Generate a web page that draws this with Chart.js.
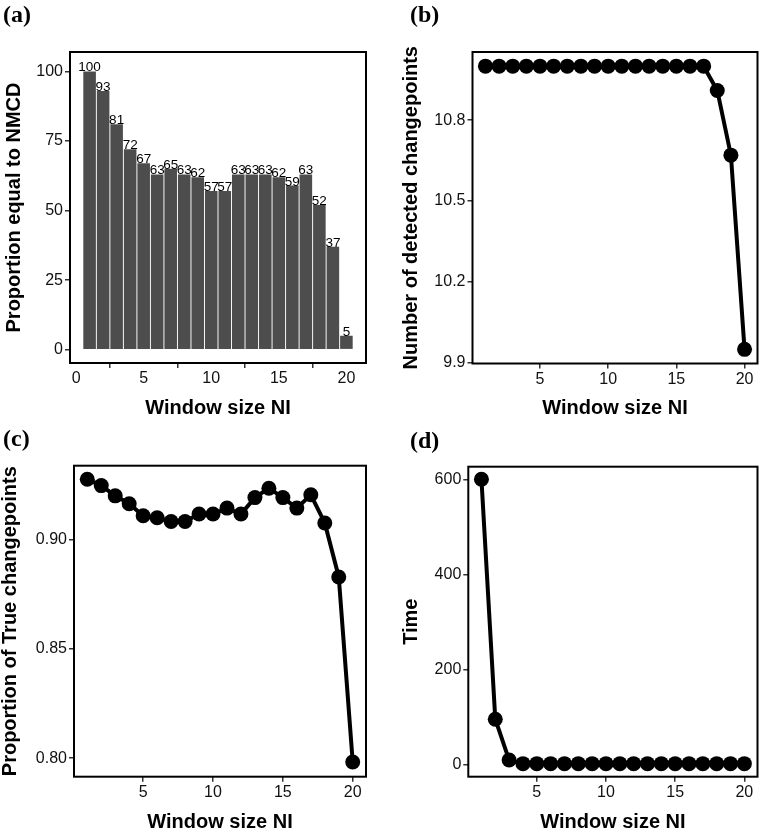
<!DOCTYPE html>
<html>
<head>
<meta charset="utf-8">
<script src="https://cdn.jsdelivr.net/npm/chart.js@4.4.1/dist/chart.umd.min.js"></script>
<style>
  body { margin: 0; background: #fff; width: 765px; height: 837px; position: relative; overflow: hidden; }
  .panel { position: absolute; }
</style>
</head>
<body>
<div class="panel" style="left:0;top:0"><canvas id="chartA" width="382" height="420"></canvas></div>
<div class="panel" style="left:382px;top:0"><canvas id="chartB" width="383" height="420"></canvas></div>
<div class="panel" style="left:0;top:417px"><canvas id="chartC" width="382" height="420"></canvas></div>
<div class="panel" style="left:382px;top:417px"><canvas id="chartD" width="383" height="420"></canvas></div>
<script>
// window sizes NI = 1..20
const windowSize = [1, 2, 3, 4, 5, 6, 7, 8, 9, 10, 11, 12, 13, 14, 15, 16, 17, 18, 19, 20]

// (a) proportion equal to NMCD
const proportionNMCD = [100, 93, 81, 72, 67, 63, 65, 63, 62, 57, 57, 63, 63, 63, 62, 59, 63, 52, 37, 5]
// (b) number of detected changepoints
const detectedChangepoints = [11, 11, 11, 11, 11, 11, 11, 11, 11, 11, 11, 11, 11, 11, 11, 11, 11, 10.91, 10.67, 9.95]
// (c) proportion of true changepoints
const trueChangepoints = [0.9276, 0.9247, 0.920, 0.9164, 0.9109, 0.910, 0.9083, 0.9083, 0.9117, 0.9117,
                          0.9144, 0.9117, 0.9192, 0.9235, 0.9192, 0.9144, 0.9205, 0.9076, 0.8829, 0.7982]
// (d) time
const timeValues = [600, 95, 9, 1.5, 1.5, 1.5, 1.5, 1.5, 1.5, 1.5, 1.5, 1.5, 1.5, 1.5, 1.5, 1.5, 1.5, 1.5, 1.5, 1.5]

// tick values and labels
const xTicksA = [0, 5, 10, 15, 20]
const xTicks = [5, 10, 15, 20]
const yTicksA = [0, 25, 50, 75, 100]
const yTicksB = [9.9, 10.2, 10.5, 10.8]
const yTickLabelsB = ['9.9', '10.2', '10.5', '10.8']
const yTicksC = [0.80, 0.85, 0.90]
const yTickLabelsC = ['0.80', '0.85', '0.90']
const yTicksD = [0, 200, 400, 600]

const sans = 'Liberation Sans, Arial, Helvetica, sans-serif'

const framePlugin = {
    id: 'frame',
    afterDraw(chart) {
        const a = chart.chartArea
        const ctx = chart.ctx
        ctx.save()
        ctx.strokeStyle = '#000'
        ctx.lineWidth = 2
        ctx.strokeRect(a.left, a.top, a.right - a.left, a.bottom - a.top)
        ctx.restore()
    }
}

const panelLabelPlugin = {
    id: 'panelLabel',
    afterDraw(chart, args, opts) {
        const ctx = chart.ctx
        ctx.save()
        ctx.font = 'bold 24px Liberation Serif, Times New Roman, serif'
        ctx.fillStyle = '#000'
        ctx.textBaseline = 'middle'
        ctx.textAlign = 'left'
        ctx.fillText(opts.text, opts.x, opts.y)
        ctx.restore()
    }
}

const barLabelPlugin = {
    id: 'barLabels',
    afterDatasetsDraw(chart) {
        const ctx = chart.ctx
        const meta = chart.getDatasetMeta(0)
        const values = chart.data.datasets[0].data
        ctx.save()
        ctx.font = '13.5px ' + sans
        ctx.fillStyle = '#000'
        ctx.textAlign = 'center'
        ctx.textBaseline = 'alphabetic'
        meta.data.forEach((bar, i) => {
            ctx.fillText(String(values[i].y), bar.x, bar.y)
        })
        ctx.restore()
    }
}

function axisOptions(min, max, ticks, labels, title, fitSize, isX) {
    return {
        type: 'linear',
        min: min,
        max: max,
        offset: false,
        afterBuildTicks: scale => { scale.ticks = ticks.map(v => ({ value: v })) },
        afterFit: scale => {
            if (isX) scale.height = fitSize
            else scale.width = fitSize
        },
        grid: { display: true, drawOnChartArea: false, drawTicks: true, tickLength: 5, color: '#333', lineWidth: 1.5 },
        border: { display: false },
        ticks: {
            autoSkip: false,
            maxRotation: 0,
            padding: isX ? 1 : 2,
            color: '#111',
            font: { family: sans, size: 16 },
            callback: (value, index) => labels ? labels[index] : String(value)
        },
        title: {
            display: true,
            text: title,
            color: '#000',
            padding: 0,
            font: { family: sans, size: 20, weight: 'bold', lineHeight: 1 }
        }
    }
}

function baseOptions(geom, xScale, yScale, label) {
    return {
        responsive: false,
        animation: false,
        layout: { padding: { left: geom.padLeft, top: geom.padTop, right: geom.padRight, bottom: geom.padBottom } },
        scales: { x: xScale, y: yScale },
        plugins: {
            legend: { display: false },
            tooltip: { enabled: false },
            panelLabel: label
        }
    }
}

function lineDataset(values) {
    return {
        data: windowSize.map((x, i) => ({ x: x, y: values[i] })),
        borderColor: '#000',
        borderWidth: 4,
        pointRadius: 7.5,
        pointBackgroundColor: '#000',
        pointBorderWidth: 0,
        tension: 0,
        clip: false
    }
}

// (a) bars
new Chart(document.getElementById('chartA'), {
    type: 'bar',
    data: {
        datasets: [{
            data: windowSize.map((x, i) => ({ x: x, y: proportionNMCD[i] })),
            backgroundColor: '#4d4d4d',
            borderWidth: 0,
            categoryPercentage: 1,
            barPercentage: 0.93
        }]
    },
    options: baseOptions(
        { padLeft: 4.5, padTop: 52, padRight: 16, padBottom: 2 },
        axisOptions(-0.45, 21.45, xTicksA, null, 'Window size NI', 55, true),
        axisOptions(-4.8, 107, yTicksA, null, 'Proportion equal to NMCD', 65.5, false),
        { text: '(a)', x: 3, y: 16 }
    ),
    plugins: [barLabelPlugin, framePlugin, panelLabelPlugin]
})

// (b) detected changepoints
new Chart(document.getElementById('chartB'), {
    type: 'line',
    data: { datasets: [lineDataset(detectedChangepoints)] },
    options: baseOptions(
        { padLeft: 19, padTop: 52, padRight: 1, padBottom: 2 },
        axisOptions(0.05, 20.95, xTicks, null, 'Window size NI', 54.5, true),
        axisOptions(9.8975, 11.0525, yTicksB, yTickLabelsB, 'Number of detected changepoints', 71.5, false),
        { text: '(b)', x: 28, y: 16 }
    ),
    plugins: [framePlugin, panelLabelPlugin]
})

// (c) proportion of true changepoints
new Chart(document.getElementById('chartC'), {
    type: 'line',
    data: { datasets: [lineDataset(trueChangepoints)] },
    options: baseOptions(
        { padLeft: 0.5, padTop: 48.7, padRight: 16, padBottom: 4.8 },
        axisOptions(0.05, 20.95, xTicks, null, 'Window size NI', 55.5, true),
        axisOptions(0.7915, 0.9338, yTicksC, yTickLabelsC, 'Proportion of True changepoints', 73.5, false),
        { text: '(c)', x: 3, y: 23 }
    ),
    plugins: [framePlugin, panelLabelPlugin]
})

// (d) time
new Chart(document.getElementById('chartD'), {
    type: 'line',
    data: { datasets: [lineDataset(timeValues)] },
    options: baseOptions(
        { padLeft: 19, padTop: 49.7, padRight: 1, padBottom: 4.8 },
        axisOptions(0.05, 20.95, xTicks, null, 'Window size NI', 55.5, true),
        axisOptions(-26, 626.5, yTicksD, null, 'Time', 67.3, false),
        { text: '(d)', x: 28, y: 25 }
    ),
    plugins: [framePlugin, panelLabelPlugin]
})
</script>
</body>
</html>
